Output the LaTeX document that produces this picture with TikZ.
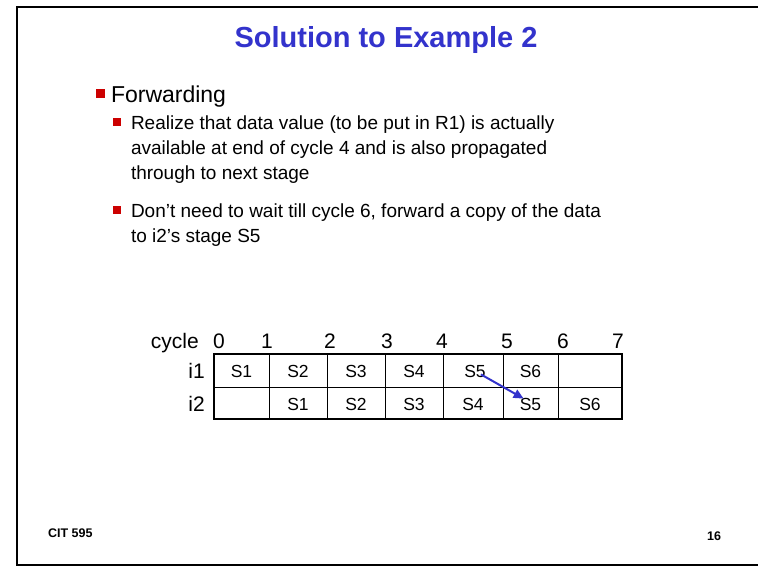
\documentclass[tikz,border=0pt]{standalone}
\usepackage{fontspec}
\setmainfont{Liberation Sans}
\usetikzlibrary{arrows.meta}
\definecolor{titleblue}{RGB}{51,51,204}
\definecolor{bulletred}{RGB}{204,0,0}
\begin{document}
\begin{tikzpicture}[x=1pt,y=-1pt,
  txt/.style={inner sep=0pt,outer sep=0pt,font=#1},
  txt/.default={\fontsize{19}{25}\selectfont},
  cell/.style={inner sep=0pt,font=\fontsize{17.5}{20}\selectfont},
  lbl/.style={inner sep=0pt,font=\fontsize{21}{23}\selectfont},
  bigsq/.style={fill=bulletred,draw=none},
  smallsq/.style={fill=bulletred,draw=none}]
\useasboundingbox (0,0) rectangle (758,566);
% slide frame
\draw[line width=2.2pt] (780,7) -- (17,7) -- (17,565) -- (780,565);

% title
\node[txt={\fontsize{29}{32}\selectfont\bfseries}, text=titleblue, anchor=base] (title) at (386,47) {Solution to Example 2};

% bullets
\fill[bigsq] (96,88.5) rectangle (105,97.5);
\node[txt={\fontsize{23}{26}\selectfont}, anchor=base west] (fwd) at (111,102) {Forwarding};

\fill[smallsq] (112.5,118) rectangle (120.5,126);
\node[txt, anchor=base west] (b1l1) at (131,129) {Realize that data value (to be put in R1) is actually};
\node[txt, anchor=base west] (b1l2) at (131,154) {available at end of cycle 4 and is also propagated};
\node[txt, anchor=base west] (b1l3) at (131,179) {through to next stage};

\fill[smallsq] (112.5,206) rectangle (120.5,214);
\node[txt, anchor=base west] (b2l1) at (131,217) {Don’t need to wait till cycle 6, forward a copy of the data};
\node[txt, anchor=base west] (b2l2) at (131,242) {to i2’s stage S5};

% pipeline table grid
\draw[line width=0.8pt] (269,354) -- (269,419) (327,354) -- (327,419)
  (385,354) -- (385,419) (443,354) -- (443,419) (503,354) -- (503,419)
  (558,354) -- (558,419) (214,387) -- (622,387);
\draw[line width=1.8pt] (214,354) rectangle (622,419);

% cycle numbers
\node[lbl, anchor=base east] (cyc) at (199,348) {cycle};
\foreach \n/\x in {0/219,1/267,2/330,3/387,4/442,5/507,6/563,7/618}
  \node[lbl, anchor=base] (c\n) at (\x,348) {\n};

% instruction labels
\node[lbl, anchor=base east] (i1) at (205,378) {i1};
\node[lbl, anchor=base east] (i2) at (205,411) {i2};

% stage cells
\foreach \s/\x in {1/241.5,2/298,3/356,4/414,5/475,6/530.5}
  \node[cell, anchor=base] (r1c\s) at (\x,377) {S\s};
\foreach \s/\x in {1/298,2/356,3/414,4/473,5/530.5,6/590}
  \node[cell, anchor=base] (r2s\s) at (\x,410) {S\s};

% forwarding path
\draw[titleblue, line width=2pt, -{Triangle[length=10pt,width=9pt]}]
  ([xshift=-5pt,yshift=3pt]r1c5.south east) -- ([xshift=4pt,yshift=-1pt]r2s5.north west);

% footer
\node[txt={\fontsize{12.5}{14}\selectfont\bfseries}, anchor=base west] (cit) at (48,537) {CIT 595};
\node[txt={\fontsize{12.5}{14}\selectfont\bfseries}, anchor=base east] (pg) at (721,540) {16};
\end{tikzpicture}
\end{document}
